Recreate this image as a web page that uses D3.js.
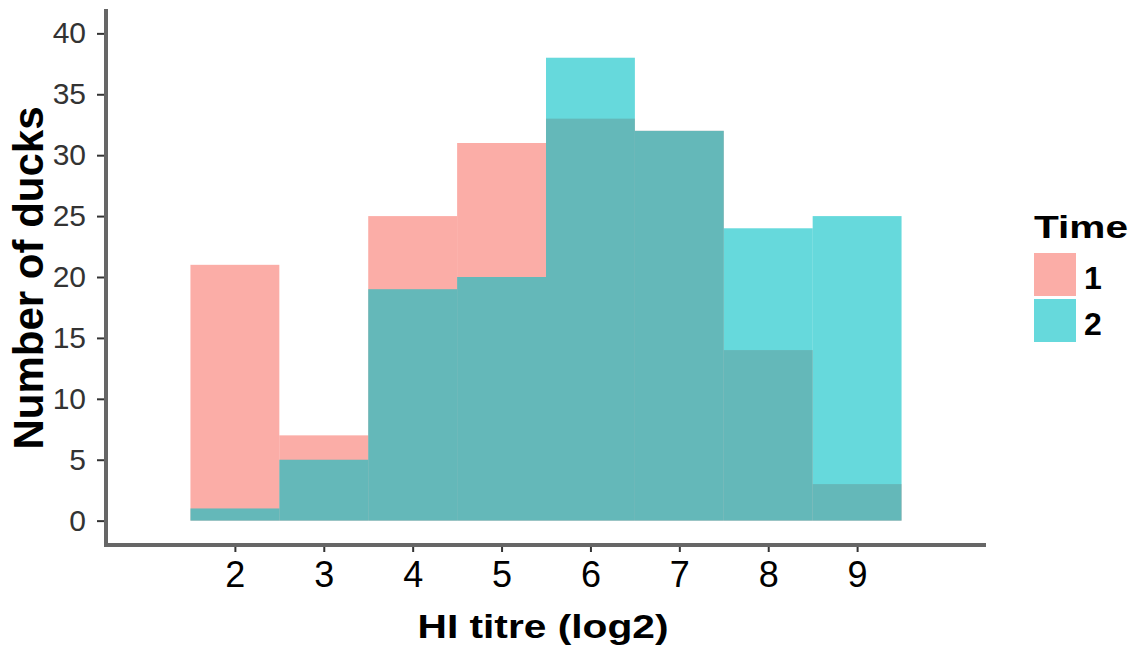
<!DOCTYPE html>
<html>
<head>
<meta charset="utf-8">
<script src="https://cdn.jsdelivr.net/npm/d3@7"></script>
<style>
  body { margin: 0; background: #fff; }
  text { font-family: "Liberation Sans", Arial, sans-serif; }
</style>
</head>
<body>
<svg width="1138" height="655"></svg>
<script>
const binCenters = [2, 3, 4, 5, 6, 7, 8, 9];
const time1Counts = [21, 7, 25, 31, 33, 32, 14, 3];
const time2Counts = [1, 5, 19, 20, 38, 32, 24, 25];
const seriesNames = ['1', '2'];
const seriesColors = ['#F8766D', '#00BFC4'];
const yTicks = [0, 5, 10, 15, 20, 25, 30, 35, 40];
const binWidth = 1;
const fontStack = '"Liberation Sans", Arial, sans-serif';

const svg = d3.select('svg');

const x = d3.scaleLinear().domain([0.55, 10.45]).range([106, 986]);
const y = d3.scaleLinear().domain([-2, 42]).range([545, 9]);

const series = [time1Counts, time2Counts];

// bars, time 1 first so time 2 lays on top
series.forEach(function(counts, si){
  svg.append('g')
     .selectAll('rect')
     .data(binCenters.map(function(c, i){ return {x: c, n: counts[i]}; }))
     .enter().append('rect')
       .attr('x', function(d){ return x(d.x - binWidth/2); })
       .attr('y', function(d){ return y(d.n); })
       .attr('width', function(d){ return x(d.x + binWidth/2) - x(d.x - binWidth/2); })
       .attr('height', function(d){ return y(0) - y(d.n); })
       .attr('fill', seriesColors[si])
       .attr('fill-opacity', 0.6);
});

// y axis
var yAxis = d3.axisLeft(y).tickValues(yTicks).tickSize(9).tickPadding(11);
var gy = svg.append('g').attr('transform', 'translate(106,0)').call(yAxis);
gy.select('.domain').remove();
gy.selectAll('.tick line').attr('stroke', '#333').attr('stroke-width', 2);
gy.selectAll('.tick text').attr('font-size', 30).attr('fill', '#333')
  .style('font-family', fontStack);

// x axis
var xAxis = d3.axisBottom(x).tickValues(binCenters).tickSize(7).tickPadding(9);
var gx = svg.append('g').attr('transform', 'translate(0,545)').call(xAxis);
gx.select('.domain').remove();
gx.selectAll('.tick line').attr('stroke', '#333').attr('stroke-width', 2);
gx.selectAll('.tick text').attr('font-size', 36).attr('fill', '#000')
  .style('font-family', fontStack);

// axis lines
svg.append('line').attr('x1', 106).attr('x2', 106).attr('y1', 9).attr('y2', 547)
   .attr('stroke', '#666').attr('stroke-width', 4);
svg.append('line').attr('x1', 104).attr('x2', 986).attr('y1', 545).attr('y2', 545)
   .attr('stroke', '#666').attr('stroke-width', 4);

// axis titles
svg.append('text').attr('x', 543).attr('y', 638)
   .attr('text-anchor', 'middle').attr('font-weight', 'bold').attr('font-size', 33)
   .attr('textLength', 251).attr('lengthAdjust', 'spacingAndGlyphs')
   .text('HI titre (log2)');
svg.append('text').attr('transform', 'translate(43,278) rotate(-90)')
   .attr('text-anchor', 'middle').attr('font-weight', 'bold').attr('font-size', 42)
   .text('Number of ducks');

// legend
var legend = svg.append('g').attr('transform', 'translate(1034,0)');
legend.append('text').attr('x', 0).attr('y', 238)
   .attr('font-weight', 'bold').attr('font-size', 32)
   .attr('textLength', 94).attr('lengthAdjust', 'spacingAndGlyphs')
   .text('Time');
var key = legend.selectAll('.key').data(seriesNames).enter().append('g')
   .attr('class', 'key')
   .attr('transform', function(d, i){ return 'translate(0,' + (253 + i*46) + ')'; });
key.append('rect').attr('width', 42).attr('height', 43)
   .attr('fill', function(d, i){ return seriesColors[i]; }).attr('fill-opacity', 0.6);
key.append('text').attr('x', 50).attr('y', 36)
   .attr('font-weight', 'bold').attr('font-size', 32).text(function(d){ return d; });
</script>
</body>
</html>
